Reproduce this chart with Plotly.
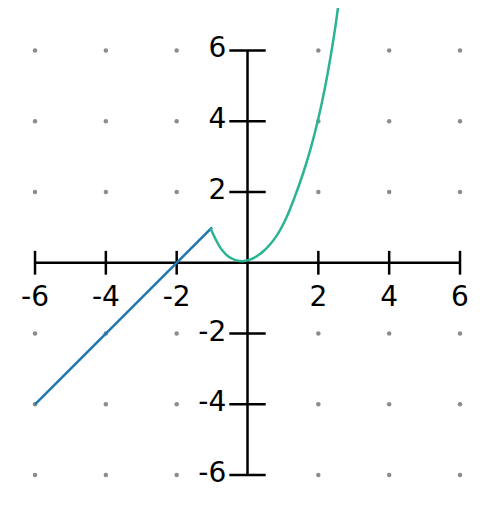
import plotly.graph_objects as go

# piecewise function
line_x = [-6, -1]
line_y = [-4, 1]

curve_x = [-1.05, -0.75, -0.5, -0.22, 0.05, 0.44, 0.82, 1.1, 1.31, 1.57, 1.8, 1.98, 2.18, 2.35, 2.47, 2.56]
curve_y = [0.98, 0.4, 0.15, 0.05, 0.08, 0.32, 0.76, 1.28, 1.8, 2.53, 3.29, 3.99, 4.91, 5.85, 6.6, 7.25]

# axes and grid
axis_span = [-6, 6]
tick_vals = [-6, -4, -2, 2, 4, 6]
x_tick_labels = ["-6", "-4", "-2", "2", "4", "6"]
y_tick_labels = ["-6", "-4", "-2", "2", "4", "6"]
grid_vals = [-6, -4, -2, 0, 2, 4, 6]

fig = go.Figure()

# gray dot grid (the axes cover the row/column at zero)
dot_x = [gx for gx in grid_vals for gy in grid_vals if gx != 0 and gy != 0]
dot_y = [gy for gx in grid_vals for gy in grid_vals if gx != 0 and gy != 0]
fig.add_trace(go.Scatter(x=dot_x, y=dot_y, mode="markers",
                         marker=dict(color="#8c8c8c", size=4.5), hoverinfo="skip"))

# hand drawn axes
fig.add_trace(go.Scatter(x=axis_span, y=[0, 0], mode="lines",
                         line=dict(color="black", width=2.5), hoverinfo="skip"))
fig.add_trace(go.Scatter(x=[0, 0], y=axis_span, mode="lines",
                         line=dict(color="black", width=2.5), hoverinfo="skip"))

# tick marks
fig.add_trace(go.Scatter(x=tick_vals, y=[0] * len(tick_vals), mode="markers",
                         marker=dict(symbol="line-ns", size=17,
                                     line=dict(color="black", width=2.5)),
                         hoverinfo="skip"))
fig.add_trace(go.Scatter(x=[0] * len(tick_vals), y=tick_vals, mode="markers",
                         marker=dict(symbol="line-ew", size=26,
                                     line=dict(color="black", width=2.5)),
                         hoverinfo="skip"))

# tick labels
label_font = dict(size=28, color="black", family="DejaVu Sans")
fig.add_trace(go.Scatter(x=tick_vals, y=[-1.02] * len(tick_vals), mode="text",
                         text=x_tick_labels, textfont=label_font,
                         cliponaxis=False, hoverinfo="skip"))
fig.add_trace(go.Scatter(x=[-0.6] * len(tick_vals), y=tick_vals, mode="text",
                         text=y_tick_labels, textposition="middle left",
                         textfont=label_font, cliponaxis=False, hoverinfo="skip"))

# the function
fig.add_trace(go.Scatter(x=line_x, y=line_y, mode="lines",
                         line=dict(color="#1f77b4", width=2.5)))
fig.add_trace(go.Scatter(x=curve_x, y=curve_y, mode="lines", line_shape="spline",
                         line=dict(color="#2ab493", width=2.5)))

# page body has an 8px margin, so the figure is a bit smaller than the window
fig.update_layout(
    width=478, height=506,
    margin=dict(l=0, r=0, t=0, b=0),
    paper_bgcolor="white", plot_bgcolor="white",
    showlegend=False,
    xaxis=dict(range=[-6.763, 6.734], visible=False, fixedrange=True),
    yaxis=dict(range=[-7.1, 7.2], visible=False, fixedrange=True),
)

fig.write_html("out.html")
